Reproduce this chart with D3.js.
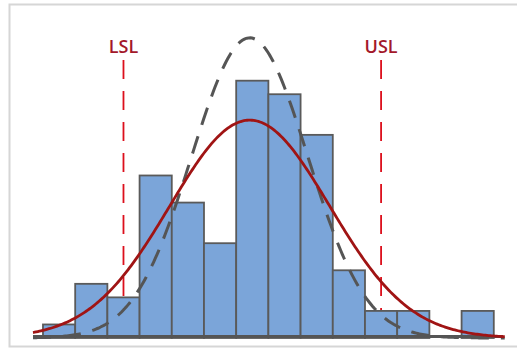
<!DOCTYPE html>
<html>
<head>
<meta charset="utf-8">
<script src="https://cdn.jsdelivr.net/npm/d3@7"></script>
<style>
  html, body { margin: 0; padding: 0; background: #fff; }
  svg { display: block; }
</style>
</head>
<body>
<div id="chart"></div>
<script>
// === DATA ===
// histogram bins, in bin units (edge i to i+1)
const binEdges = [0, 1, 2, 3, 4, 5, 6, 7, 8, 9, 10, 11, 12, 13, 14];
const counts = [1, 4, 3, 12, 10, 7, 19, 18, 15, 5, 2, 2, 0, 2];
const specNames = ["LSL", "USL"];
const specValues = [2.5, 10.5];
// fitted normal curves: overall (solid) and within (dashed)
const fitMean = 6.42;
const sigmaOverall = 2.48;
const sigmaWithin = 1.8;
const xDomain = [-0.31, 14.37];

const width = 517, height = 349;
const svg = d3.select("#chart").append("svg")
    .attr("width", width)
    .attr("height", height);

// frame
svg.append("rect")
    .attr("x", 9.5).attr("y", 4.5)
    .attr("width", 530).attr("height", 342)
    .attr("fill", "#fff")
    .attr("stroke", "#d6d6d6")
    .attr("stroke-width", 2);

const x = d3.scaleLinear().domain(xDomain).range([33, 505.7]);
const y = d3.scaleLinear().domain([0, 22.3]).range([338, 36]);

const total = d3.sum(counts);
const binW = binEdges[1] - binEdges[0];
const normal = sigma => v =>
    total * binW / (sigma * Math.sqrt(2 * Math.PI)) *
    Math.exp(-0.5 * Math.pow((v - fitMean) / sigma, 2));

// spec limit lines (behind the bars)
svg.selectAll(".spec-line")
    .data(specValues)
    .enter()
    .append("line")
    .attr("class", "spec-line")
    .attr("x1", d => x(d)).attr("x2", d => x(d))
    .attr("y1", 60).attr("y2", 336)
    .attr("stroke", "#dc0f1c")
    .attr("stroke-width", 1.8)
    .attr("stroke-dasharray", "19,12");

svg.selectAll(".spec-label")
    .data(specValues)
    .enter()
    .append("text")
    .attr("class", "spec-label")
    .attr("x", d => x(d))
    .attr("y", 53)
    .attr("text-anchor", "middle")
    .attr("font-family", "Open Sans, sans-serif")
    .attr("font-size", 18)
    .attr("font-weight", 600)
    .attr("fill", "#a3182a")
    .text((d, i) => specNames[i]);

// bars (empty bins are not drawn)
svg.selectAll(".bar")
    .data(counts.map((c, i) => ({ c, i })).filter(d => d.c > 0))
    .enter()
    .append("rect")
    .attr("class", "bar")
    .attr("x", d => x(binEdges[d.i]))
    .attr("width", d => x(binEdges[d.i] + binW) - x(binEdges[d.i]))
    .attr("y", d => y(d.c))
    .attr("height", d => y(0) - y(d.c))
    .attr("fill", "#7ba5d9")
    .attr("stroke", "#5a5a5a")
    .attr("stroke-width", 1.8);

// baseline
svg.append("line")
    .attr("x1", 33).attr("x2", 503)
    .attr("y1", 336.5).attr("y2", 336.5)
    .attr("stroke", "#555")
    .attr("stroke-width", 3);

// fitted curves
const samples = d3.range(xDomain[0], xDomain[1] + 0.001, 0.05);
const line = f => d3.line().x(v => x(v)).y(v => y(f(v)))(samples);

svg.append("path")
    .attr("d", line(normal(sigmaWithin)))
    .attr("fill", "none")
    .attr("stroke", "#555")
    .attr("stroke-width", 3)
    .attr("stroke-dasharray", "18,12");

svg.append("path")
    .attr("d", line(normal(sigmaOverall)))
    .attr("fill", "none")
    .attr("stroke", "#a01414")
    .attr("stroke-width", 2.8);
</script>
</body>
</html>
